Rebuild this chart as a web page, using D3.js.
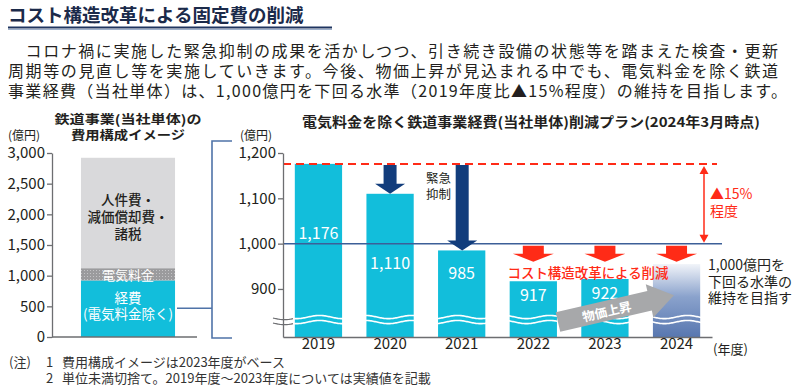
<!DOCTYPE html>
<html lang="ja">
<head>
<meta charset="utf-8">
<script src="https://cdn.jsdelivr.net/npm/d3@7"></script>
<style>
  body { margin: 0; background: #fff; }
  svg { display: block; font-family: "Noto Sans CJK JP", "Noto Sans", sans-serif; }
</style>
</head>
<body>
<div id="chart"></div>
<script>
// 説明文
const titleText = "コスト構造改革による固定費の削減";
const bodyLines = [
    "\u3000コロナ禍に実施した緊急抑制の成果を活かしつつ、引き続き設備の状態等を踏まえた検査・更新",
    "周期等の見直し等を実施していきます。今後、物価上昇が見込まれる中でも、電気料金を除く鉄道",
    "事業経費（当社単体）は、1,000億円を下回る水準（2019年度比▲15%程度）の維持を目指します。"
];
const notes = ["費用構成イメージは2023年度がベース", "単位未満切捨て。2019年度～2023年度については実績値を記載"];

// 左: 費用構成イメージ
const compNames = ["経費", "電気料金", "人件費等"];
const compValues = [922, 200, 1800];
const compLabels = [["経費", "(電気料金除く)"], ["電気料金"], ["人件費・", "減価償却費・", "諸税"]];
const leftTicks = [0, 500, 1000, 1500, 2000, 2500, 3000];

// 右: 削減プラン
const years = ["2019", "2020", "2021", "2022", "2023", "2024"];
const actualValues = [1176, 1110, 985, 917, 922];
const target2024 = 955;
const rightTicks = [900, 1000, 1100, 1200];
const emergencyYears = ["2020", "2021"];
const reformYears = ["2022", "2023", "2024"];

const W = 800, H = 390;
const svg = d3.select("#chart").append("svg").attr("width", W).attr("height", H);
const defs = svg.append("defs");

const cyan = "#12bedb", navy = "#123d7c", red = "#ff2b17", textCol = "#231f20";

// タイトル
svg.append("text").attr("x", 8).attr("y", 22)
    .attr("font-size", 18.5).attr("font-weight", 700).attr("fill", "#1b2a4a")
    .text(titleText);
svg.append("line").attr("x1", 8).attr("x2", 332).attr("y1", 27.5).attr("y2", 27.5)
    .attr("stroke", "#1f3560").attr("stroke-width", 2.2);
svg.append("line").attr("x1", 8).attr("x2", 332).attr("y1", 29.5).attr("y2", 29.5)
    .attr("stroke", "#9fb1cc").attr("stroke-width", 1);

bodyLines.forEach((t, i) => {
    svg.append("text").attr("x", 8).attr("y", 50 + i * 20)
        .attr("dominant-baseline", "central")
        .attr("font-size", 16).attr("fill", textCol)
        .attr("textLength", i === 2 ? 779 : 770).attr("lengthAdjust", "spacing")
        .text(t);
});

// ---- 左チャート ----
const yL = d3.scaleLinear().domain([0, 3000]).range([337, 153]);
const xL = d3.scaleBand().domain(["構成"]).range([52, 204]).paddingOuter(0.308);

const leftG = svg.append("g");
leftG.append("text").attr("x", 128).attr("y", 118).attr("text-anchor", "middle")
    .attr("dominant-baseline", "central").attr("font-size", 12.5).attr("font-weight", 700)
    .attr("textLength", 147).attr("lengthAdjust", "spacingAndGlyphs")
    .attr("fill", textCol).text("鉄道事業(当社単体)の");
leftG.append("text").attr("x", 128).attr("y", 134).attr("text-anchor", "middle")
    .attr("dominant-baseline", "central").attr("font-size", 12.5).attr("font-weight", 700)
    .attr("textLength", 114).attr("lengthAdjust", "spacingAndGlyphs")
    .attr("fill", textCol).text("費用構成イメージ");
leftG.append("text").attr("x", 8).attr("y", 134).attr("dominant-baseline", "central")
    .attr("font-size", 12).attr("fill", textCol).text("(億円)");

const pat = defs.append("pattern").attr("id", "dots").attr("width", 3).attr("height", 3)
    .attr("patternUnits", "userSpaceOnUse");
pat.append("rect").attr("width", 3).attr("height", 3).attr("fill", "#9b9b9d");
pat.append("rect").attr("width", 1).attr("height", 1).attr("fill", "#c4c4c6");

const compFill = [cyan, "url(#dots)", "#d9d9db"];
const compText = ["#fff", "#fff", textCol];
const labelShift = [-3.5, 0, 3];
const stacked = compValues.map((v, i) => {
    const lo = d3.sum(compValues.slice(0, i));
    return {lo: lo, hi: lo + v, i: i};
});
leftG.selectAll("rect.comp").data(stacked).join("rect").attr("class", "comp")
    .attr("x", xL("構成")).attr("width", xL.bandwidth())
    .attr("y", d => yL(d.hi)).attr("height", d => yL(d.lo) - yL(d.hi))
    .attr("fill", d => compFill[d.i]);

stacked.forEach(d => {
    const lines = compLabels[d.i];
    const mid = (yL(d.lo) + yL(d.hi)) / 2;
    const lh = d.i === 2 ? 17 : 16.5;
    lines.forEach((t, j) => {
        leftG.append("text").attr("x", xL("構成") + xL.bandwidth() / 2)
            .attr("y", mid + (j - (lines.length - 1) / 2) * lh + labelShift[d.i])
            .attr("text-anchor", "middle").attr("dominant-baseline", "central")
            .attr("font-size", d.i === 1 ? 13 : 13.5).attr("font-weight", d.i === 2 ? 500 : 400)
            .attr("fill", compText[d.i]).text(t);
    });
});

const leftAxis = leftG.append("g").attr("transform", "translate(52,0)")
    .call(d3.axisLeft(yL).tickValues(leftTicks).tickSize(5).tickSizeOuter(0).tickFormat(d3.format(",")));
leftAxis.select(".domain").attr("stroke", "#6d6e71").attr("stroke-width", 1.3);
leftAxis.selectAll(".tick line").attr("stroke", "#6d6e71").attr("stroke-width", 1.3);
leftAxis.selectAll(".tick text").attr("font-size", 15).attr("fill", textCol)
    .attr("font-family", "\"Noto Sans CJK JP\", sans-serif").attr("x", -7);
leftG.append("line").attr("x1", 52).attr("x2", 197).attr("y1", 337).attr("y2", 337)
    .attr("stroke", "#6d6e71").attr("stroke-width", 1.3);

// ブラケット
const bracketCol = "#4f73a8";
leftG.append("path")
    .attr("d", `M177,${yL(compValues[0] / 2) - 0.5}H212 M232,141H212V338H232`)
    .attr("fill", "none").attr("stroke", bracketCol).attr("stroke-width", 1.6);

// ---- 右チャート ----
const x = d3.scaleBand().domain(years).range([283, 712]).paddingInner(0.34).paddingOuter(0.165);
const y = d3.scaleLinear().domain([794, 1200]).range([337, 153]);
const rg = svg.append("g");

rg.append("text").attr("x", 531).attr("y", 121).attr("text-anchor", "middle")
    .attr("dominant-baseline", "central").attr("font-size", 13.5).attr("font-weight", 700)
    .attr("textLength", 458).attr("lengthAdjust", "spacingAndGlyphs")
    .attr("fill", textCol).text("電気料金を除く鉄道事業経費(当社単体)削減プラン(2024年3月時点)");
rg.append("text").attr("x", 240).attr("y", 134).attr("dominant-baseline", "central")
    .attr("font-size", 12).attr("fill", textCol).text("(億円)");

const grad = defs.append("linearGradient").attr("id", "g2024").attr("x1", 0).attr("x2", 0).attr("y1", 0).attr("y2", 1);
grad.append("stop").attr("offset", "0").attr("stop-color", "#f1f4f9");
grad.append("stop").attr("offset", "0.45").attr("stop-color", "#8aa2cc");
grad.append("stop").attr("offset", "1").attr("stop-color", "#5877b0");

const barData = years.map((yr, i) => ({year: yr, value: i < actualValues.length ? actualValues[i] : target2024, actual: i < actualValues.length}));
rg.selectAll("rect.bar").data(barData).join("rect").attr("class", "bar")
    .attr("x", d => x(d.year)).attr("width", x.bandwidth())
    .attr("y", d => y(d.value)).attr("height", d => y(794) - y(d.value))
    .attr("fill", d => d.actual ? cyan : "url(#g2024)");

// 波線 (省略記号)
const breakY = y(838);
const wave = (x0, x1, yy) => {
    const pts = d3.range(x0, x1 + 0.1, 1).map(px => [px, yy + 1.6 * Math.sin((px - x0) / 46 * 2 * Math.PI)]);
    return d3.line()(pts);
};
[0, 5].forEach(off => {
    rg.append("path").attr("d", wave(285, 712, breakY + off))
        .attr("fill", "none").attr("stroke", "#fff").attr("stroke-width", 1.6);
    rg.append("path").attr("d", wave(273, 293, breakY + off + 1))
        .attr("fill", "none").attr("stroke", "#6d6e71").attr("stroke-width", 1.2);
});

// 値ラベル
rg.selectAll("text.val").data(barData.filter(d => d.actual)).join("text").attr("class", "val")
    .attr("x", d => x(d.year) + x.bandwidth() / 2)
    .attr("y", d => d.value > 1000 ? y(d.value) + 68 : y(d.value) + (d.value > 950 ? 22 : 13))
    .attr("text-anchor", "middle").attr("dominant-baseline", "central")
    .attr("font-size", 16).attr("fill", "#fff").text(d => d3.format(",")(d.value));

// 基準線
rg.append("line").attr("x1", 283).attr("x2", 717).attr("y1", y(actualValues[0])).attr("y2", y(actualValues[0]))
    .attr("stroke", red).attr("stroke-width", 2).attr("stroke-dasharray", "8,5");
rg.append("line").attr("x1", 283).attr("x2", 722).attr("y1", y(1000)).attr("y2", y(1000))
    .attr("stroke", "#3c5f98").attr("stroke-width", 1.5);

// 緊急抑制の矢印
emergencyYears.forEach(yr => {
    const cx = x(yr) + x.bandwidth() / 2 + (yr === "2021" ? 0.5 : 0);
    const top = y(actualValues[0]) + 1, tip = y(actualValues[years.indexOf(yr)]);
    const hl = 10;
    rg.append("path")
        .attr("d", `M${cx - 6.5},${top}H${cx + 6.5}V${tip - hl}H${cx + 15}L${cx},${tip}L${cx - 15},${tip - hl}H${cx - 6.5}Z`)
        .attr("fill", navy);
});
rg.append("text").attr("x", 426).attr("y", 177).attr("dominant-baseline", "central")
    .attr("font-size", 12.5).attr("fill", textCol).text("緊急");
rg.append("text").attr("x", 426).attr("y", 193).attr("dominant-baseline", "central")
    .attr("font-size", 12.5).attr("fill", textCol).text("抑制");

// コスト構造改革の矢印
reformYears.forEach(yr => {
    const cx = x(yr) + x.bandwidth() / 2;
    const t0 = y(1000) + 2;
    rg.append("path")
        .attr("d", `M${cx - 10.5},${t0}H${cx + 10.5}V${t0 + 8}H${cx + 20.5}L${cx},${t0 + 16}L${cx - 20.5},${t0 + 8}H${cx - 10.5}Z`)
        .attr("fill", red);
});
rg.append("text").attr("x", 588).attr("y", 272).attr("text-anchor", "middle")
    .attr("dominant-baseline", "central").attr("font-size", 13.5).attr("font-weight", 500)
    .attr("fill", red).attr("textLength", 161).attr("lengthAdjust", "spacingAndGlyphs")
    .text("コスト構造改革による削減");

// ▲15% 両矢印
const ax = 704, ay0 = y(actualValues[0]) + 2, ay1 = y(1000) - 1;
rg.append("line").attr("x1", ax).attr("x2", ax).attr("y1", ay0 + 6).attr("y2", ay1 - 6)
    .attr("stroke", red).attr("stroke-width", 1.5);
rg.append("path").attr("d", `M${ax},${ay0}L${ax + 4.5},${ay0 + 8}H${ax - 4.5}Z M${ax},${ay1}L${ax + 4.5},${ay1 - 8}H${ax - 4.5}Z`)
    .attr("fill", red);
rg.append("text").attr("x", 710).attr("y", 193).attr("dominant-baseline", "central")
    .attr("font-size", 14).attr("fill", red).text("▲15%");
rg.append("text").attr("x", 710).attr("y", 210).attr("dominant-baseline", "central")
    .attr("font-size", 14).attr("fill", red).text("程度");

// 物価上昇 矢印
const pg = rg.append("g").attr("transform", "translate(558,322) rotate(-13)");
pg.append("path").attr("d", "M0,-10H94V-17L119,0L94,17V10H0Z").attr("fill", "#a7a8aa");
pg.append("text").attr("x", 50).attr("y", 0).attr("text-anchor", "middle").attr("dominant-baseline", "central")
    .attr("font-size", 12.5).attr("font-weight", 700).attr("fill", "#fff").text("物価上昇");

// 目標テキスト
["1,000億円を", "下回る水準の", "維持を目指す"].forEach((t, i) => {
    rg.append("text").attr("x", 708).attr("y", 264 + i * 16.5).attr("dominant-baseline", "central")
        .attr("font-size", 14).attr("fill", textCol).text(t);
});

// 軸
const ra = rg.append("g").attr("transform", "translate(283,0)")
    .call(d3.axisLeft(y).tickValues(rightTicks).tickSize(5).tickSizeOuter(0).tickFormat(d3.format(",")));
ra.select(".domain").attr("stroke", "#6d6e71").attr("stroke-width", 1.3);
ra.selectAll(".tick line").attr("stroke", "#6d6e71").attr("stroke-width", 1.3);
ra.selectAll(".tick text").attr("font-size", 15).attr("fill", textCol)
    .attr("font-family", "\"Noto Sans CJK JP\", sans-serif").attr("x", -7);

const xa = rg.append("g").attr("transform", "translate(0,337)")
    .call(d3.axisBottom(x).tickSize(0).tickSizeOuter(0));
xa.select(".domain").attr("stroke", "#6d6e71").attr("stroke-width", 1.3);
xa.selectAll(".tick text").attr("font-size", 15).attr("fill", textCol)
    .attr("font-family", "\"Noto Sans CJK JP\", sans-serif").attr("dy", "0.4em").attr("y", 6);
rg.append("text").attr("x", 713).attr("y", 348).attr("dominant-baseline", "central")
    .attr("font-size", 13).attr("fill", textCol).text("(年度)");

// 注記
svg.append("text").attr("x", 9).attr("y", 361).attr("dominant-baseline", "central")
    .attr("font-size", 13).attr("fill", "#333").text("(注)");
notes.forEach((t, i) => {
    svg.append("text").attr("x", 46).attr("y", 361 + i * 16.5).attr("dominant-baseline", "central")
        .attr("font-size", 13).attr("fill", "#333").text(i + 1);
    svg.append("text").attr("x", 62).attr("y", 361 + i * 16.5).attr("dominant-baseline", "central")
        .attr("font-size", 13).attr("fill", "#333").text(t);
});
</script>
</body>
</html>
